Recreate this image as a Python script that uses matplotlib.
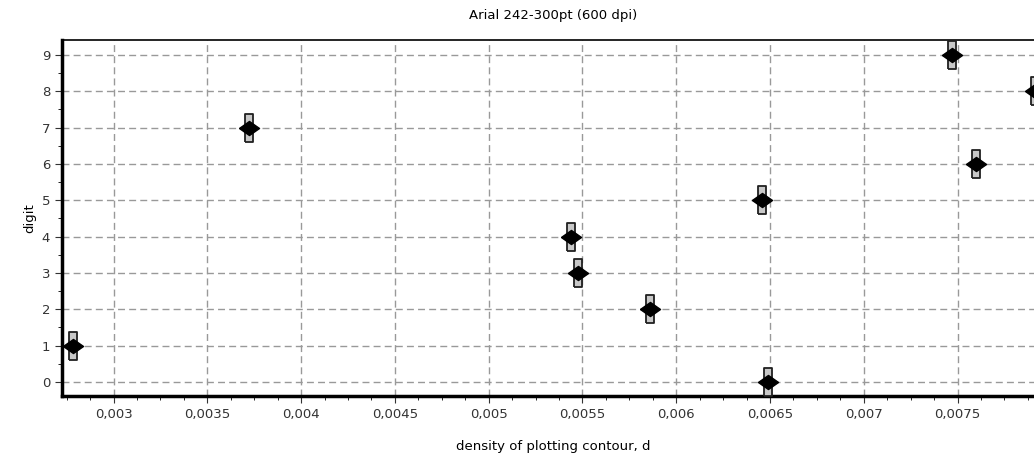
import numpy as np
import matplotlib.pyplot as plt
from matplotlib.ticker import MultipleLocator, FuncFormatter

# density of plotting contour per digit
digits = [0, 1, 2, 3, 4, 5, 6, 7, 8, 9]
density = [0.006492, 0.002784, 0.005862, 0.005479, 0.005441,
           0.006455, 0.007597, 0.003722, 0.007915, 0.007473]

fig = plt.figure(figsize=(10.34, 4.71), dpi=100)
ax = fig.add_axes([62 / 1034, 75 / 471, 1 - 62 / 1034 + 0.01, 356 / 471])

ax.set_xlim(0.002725, 0.007963)
ax.set_ylim(-0.39, 9.41)

# vertical bar behind each point
bar = [(-0.3, -1), (0.3, -1), (0.3, 1), (-0.3, 1), (-0.3, -1)]
ax.scatter(density, digits, marker=bar, s=420, facecolor='#c8c8c8',
           edgecolor='#202020', linewidth=1.3, zorder=3)
diamond = [(-1, 0), (0, 0.7), (1, 0), (0, -0.7), (-1, 0)]
ax.scatter(density, digits, marker=diamond, s=210, color='black', zorder=4)

ax.xaxis.set_major_locator(MultipleLocator(0.0005))
ax.xaxis.set_minor_locator(MultipleLocator(0.000125))
ax.yaxis.set_major_locator(MultipleLocator(1))
ax.yaxis.set_minor_locator(MultipleLocator(0.5))
ax.xaxis.set_major_formatter(FuncFormatter(lambda v, p: ('%g' % round(v, 5)).replace('.', ',')))

ax.grid(True, which='major', linestyle=(0, (5, 3)), color='#999999', linewidth=1.0)
ax.tick_params(labelsize=9.5, direction='out', length=5, colors='#333333')
ax.tick_params(which='minor', length=3)

for s in ['left', 'bottom']:
    ax.spines[s].set_linewidth(2.5)
ax.spines['top'].set_linewidth(1.2)
ax.spines['right'].set_visible(False)

ax.set_xlabel('density of plotting contour, d', fontsize=9.5, labelpad=14)
ax.set_ylabel('digit', fontsize=9.5, labelpad=4)
ax.set_title('Arial 242-300pt (600 dpi)', fontsize=9.5, pad=15)

fig.savefig('out.png', dpi=100)
